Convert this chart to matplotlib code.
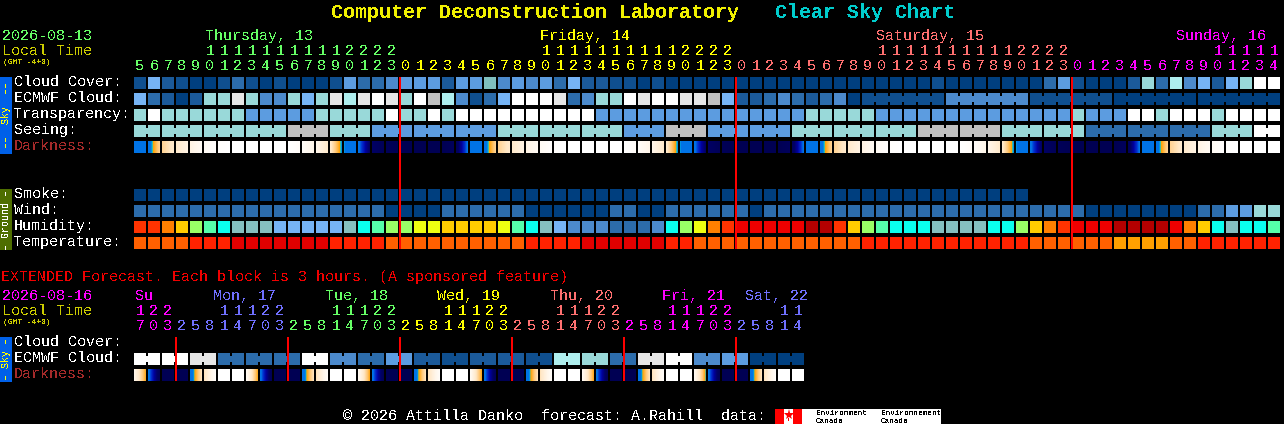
"""
Clear Sky Chart for the Computer Deconstruction Laboratory.
Blocks are laid out on the pixel grid of the original image.
"""
import numpy as np
import matplotlib
import matplotlib.pyplot as plt
from matplotlib.colors import LinearSegmentedColormap
from matplotlib.patches import Rectangle

matplotlib.use('Agg')

OUTPUT_PNG = "out.png"

# Palettes
CLOUD_COLORS = ['#003f7f', '#0f4f8f', '#1b5a9a', '#2c6cab', '#4c8acc', '#5c9ce0',
                '#76b4f5', '#7fbfbf', '#99d9d9', '#aeeeee', '#e6e6e6', '#ffffff', '#c0c0c0']
HUMIDITY_COLORS = ['#b40000', '#ee0000', '#ff3300', '#ff8000', '#ffcc00', '#eeff11', '#99ff66',
                   '#55ffaa', '#0affee', '#85bfbf', '#76b4f5', '#4c8acc', '#2c6cab']
TEMP_COLORS = ['#e00000', '#ff2200', '#ff6000', '#ffa000']
DARK_CMAP = LinearSegmentedColormap.from_list('dark', [
    (0.00, '#000050'), (0.10, '#000064'), (0.18, '#0000a0'), (0.25, '#0030d0'),
    (0.30, '#0073e6'), (0.42, '#0073e6'), (0.45, '#00c8d8'), (0.47, '#ffa000'),
    (0.58, '#ffc878'), (0.70, '#ffe8c8'), (0.85, '#fff6ea'), (1.00, '#ffffff')])

GREEN, YELLOW, SALMON, MAGENTA, PERI = '#66ff66', '#ffff00', '#ff7070', '#ff00ff', '#7070ff'
OLIVE_TEXT = '#cccc00'

# Hourly forecast, one value per column
HOURS = [5, 6, 7, 8, 9, 10, 11, 12, 13, 14, 15, 16, 17, 18, 19, 20, 21, 22, 23,
         0, 1, 2, 3, 4, 5, 6, 7, 8, 9, 10, 11, 12, 13, 14, 15, 16, 17, 18, 19, 20, 21, 22, 23,
         0, 1, 2, 3, 4, 5, 6, 7, 8, 9, 10, 11, 12, 13, 14, 15, 16, 17, 18, 19, 20, 21, 22, 23,
         0, 1, 2, 3, 4, 5, 6, 7, 8, 9, 10, 11, 12, 13, 14]
HOUR_DAY_COLORS = [GREEN, YELLOW, SALMON, MAGENTA]
DAY_NAMES = ['Thursday, 13', 'Friday, 14', 'Saturday, 15', 'Sunday, 16']
DAY_NAME_X = [205, 540, 876, 1176]

CLOUD = [1, 6, 2, 1, 0, 0, 1, 3, 1, 0, 1, 0, 0, 0, 1, 5, 3, 3, 4, 5, 5,
         5, 2, 5, 5, 7, 4, 5, 4, 5, 3, 6, 2, 2, 1, 1, 0, 1, 0, 0, 0, 0, 0,
         0, 0, 0, 0, 0, 0, 0, 0, 0,
         0, 0, 0, 0, 0, 1, 0, 0, 0, 0, 0, 0, 0, 3, 5,
         1, 0, 0, 0, 2, 8, 3, 9, 4, 6, 2, 6, 8, 11, 11]
ECMWF = [6, 3, 2, 0, 2, 8, 8, 10, 8, 4, 4, 8, 6, 8, 10, 9, 10, 11, 10, 8, 11,
         12, 9, 4, 1, 3, 6, 11, 11, 11, 10, 3, 4, 8, 8, 11, 10, 11, 11, 10, 10, 12, 6,
         2, 2, 3, 4, 3, 2, 3, 4, 0,
         1, 1, 1, 1, 1, 1, 4, 4, 4, 4, 4, 4, 1, 1, 1, 1, 1, 1,
         0, 0, 0, 0, 0, 0, 0, 0, 0, 0, 0, 0]
ECMWF_RUNS = [1] * 52 + [6, 6, 6, 6, 6]
TRANSPARENCY = [8, 11, 8, 8, 8, 8, 8, 8, 5, 5, 5, 5, 5, 8, 8, 8, 8, 8, 11, 8, 8,
                11, 8, 11, 11, 11, 11, 11, 11, 11, 11, 11, 11,
                5, 5, 5, 5, 5, 5, 5, 5, 5, 5, 5, 5, 5, 5, 5, 8, 8, 8, 8,
                8, 5, 5, 5, 5, 5, 5, 5, 5, 5, 5, 5, 5, 5, 5,
                8, 5, 5, 5, 11, 11, 8, 11, 11, 11, 8, 11, 11, 11, 11]
SEEING_RUNS = [2, 3, 3, 3, 3, 3, 3, 3, 3, 3, 3, 3, 3, 3, 3, 3, 3, 3, 3, 3, 3, 3, 3, 3, 3, 3, 3, 2]
SEEING_VALUES = [8, 8, 8, 8, 12, 8, 5, 5, 5, 8, 8, 8, 5, 12, 5, 5, 8, 8, 8, 12, 12, 8, 8, 3, 3, 3, 8, 11]
# Darkness is a scale value at each column edge, gradient drawn between neighbours
DARKNESS_EDGES = [.31, .36, .62, .72, .82, .92, .98, 1, 1, 1, 1, 1, .95, .85, .72, .43, .32, .10, .04, .02, .02, .02, .02, .06,
                  .31, .36, .62, .72, .82, .92, .98, 1, 1, 1, 1, 1, .95, .85, .72, .43, .32, .10, .04, .02, .02, .02, .02, .06,
                  .31, .36, .62, .72, .82, .92, .98, 1, 1, 1, 1, 1, .95, .85, .72, .43, .32, .10, .04, .02, .02, .02, .02, .06,
                  .31, .36, .62, .72, .82, .92, .98, 1, 1, 1, 1]
SMOKE = [0] * 64
WIND = [3, 3, 3, 3, 3, 3, 3, 3, 3, 3, 3, 3, 3, 3, 3, 3, 3, 3, 0, 0, 0,
        0, 3, 3, 3, 3, 3, 3, 0, 0, 0, 0, 0, 0, 3, 3, 0, 0, 3, 3, 3, 3, 3, 3, 0,
        3, 3, 3, 3, 3, 3, 3,
        3, 3, 3, 3, 3, 3, 3, 3, 3, 3, 3, 3, 3, 3, 3, 3,
        0, 0, 0, 0, 0, 0, 0, 0, 3, 3, 5, 5, 8, 8]
HUMIDITY = [2, 2, 3, 4, 6, 7, 8, 9, 9, 9, 10, 10, 10, 10, 10, 9, 8, 7, 6, 6, 5,
            5, 4, 4, 4, 4, 5, 7, 8, 9, 10, 11, 11, 11, 12, 12, 12, 11, 8, 6, 5, 3, 2,
            1, 1, 1, 1, 1, 0, 0, 2, 4,
            6, 7, 8, 8, 8, 9, 9, 9, 9, 8, 8, 6, 4, 3, 2,
            1, 1, 1, 0, 0, 0, 0, 1, 3, 4, 8, 9, 8, 8, 7]
TEMPERATURE = [2, 2, 2, 2, 1, 1, 1, 0, 0, 0, 0, 0, 0, 0, 1, 1, 1, 1, 2, 2, 2,
               2, 2, 2, 2, 2, 2, 2, 1, 1, 1, 1, 0, 0, 0, 0, 0, 0, 1, 1, 2, 2, 2,
               2, 2, 2, 2, 2, 2, 2, 2, 2,
               1, 1, 1, 1, 1, 1, 1, 1, 1, 1, 1, 1, 2, 2, 2,
               2, 2, 2, 3, 3, 3, 3, 2, 2, 1, 1, 1, 1, 1, 1]

# Extended forecast, each column is 3 hours
EXT_HOURS = [17, 20, 23,
             2, 5, 8, 11, 14, 17, 20, 23,
             2, 5, 8, 11, 14, 17, 20, 23,
             2, 5, 8, 11, 14, 17, 20, 23,
             2, 5, 8, 11, 14, 17, 20, 23,
             2, 5, 8, 11, 14, 17, 20, 23,
             2, 5, 8, 11, 14]
EXT_DAY_COLORS = [MAGENTA, PERI, GREEN, YELLOW, SALMON, MAGENTA, PERI]
EXT_DAY_NAMES = ['Su', 'Mon, 17', 'Tue, 18', 'Wed, 19', 'Thu, 20', 'Fri, 21', 'Sat, 22']
EXT_DAY_X = [135, 213, 325, 437, 550, 662, 745]
EXT_ECMWF = [11, 11, 10, 3, 3, 3, 11, 4, 3, 5, 2, 1, 2, 2, 1, 9, 8, 3, 10, 11, 4, 5, 0, 0]
EXT_DARK_START = [.85, .32, .02, .02, .34, .68, 1, 1,
                  .90, .32, .02, .02, .34, .68, 1, 1,
                  .90, .32, .02, .02, .34, .68, 1, 1,
                  .90, .32, .02, .02, .34, .68, 1, 1,
                  .90, .32, .02, .02, .34, .68, 1, 1,
                  .90, .32, .02, .02, .34, .68, 1, 1]
EXT_DARK_END = [.50, .04, .02, .02, .68, .95, 1, 1,
                .50, .04, .02, .02, .68, .95, 1, 1,
                .50, .04, .02, .02, .68, .95, 1, 1,
                .50, .04, .02, .02, .68, .95, 1, 1,
                .50, .04, .02, .02, .68, .95, 1, 1,
                .46, .04, .02, .02, .68, .95, 1, 1]

FONT = 'Liberation Mono'
X0, STEP, CELL = 134, 14, 12

plt.rcParams['text.antialiased'] = False


def label(ax, x, y, s, color='white', px=15.0, **kw):
    ax.text(x, y, s, color=color, fontsize=px * 0.72, family=FONT, va='baseline', **kw)


def block(ax, x, y, w, h, color):
    ax.add_patch(Rectangle((x, y), w, h, facecolor=color, edgecolor='none',
                           linewidth=0, antialiased=False))


def draw_row(ax, y, values, palette, runs=None):
    for i, v in enumerate(values):
        block(ax, X0 + i * STEP, y, CELL, CELL, palette[v])
    if runs is None:
        return
    # blocks of one forecast period are joined by a short bridge
    start = 0
    for run in runs:
        for i in range(start, start + run - 1):
            block(ax, X0 + i * STEP + CELL, y + 3, STEP - CELL, CELL - 6, palette[values[i]])
        start += run


def draw_darkness(ax, y, starts, ends):
    for i, (a, b) in enumerate(zip(starts, ends)):
        x = X0 + i * STEP
        ax.imshow(np.linspace(a, b, CELL).reshape(1, -1), cmap=DARK_CMAP, vmin=0, vmax=1,
                  extent=(x, x + CELL, y + CELL, y), aspect='auto', interpolation='nearest')


def draw_digits(ax, hours, day_starts, colors, tens_y, ones_y):
    for i, h in enumerate(hours):
        color = colors[int(np.searchsorted(day_starts, i, side='right')) - 1]
        x = X0 + i * STEP + 6
        if h >= 10:
            label(ax, x, tens_y, str(h // 10), color, ha='center')
        label(ax, x, ones_y, str(h % 10), color, ha='center')


def side_label(ax, y, s, color):
    ax.text(6, y, s, color=color, fontsize=7.2, family=FONT, rotation=90,
            ha='center', va='center')


def generate_chart():
    fig = plt.figure(figsize=(12.84, 4.24), dpi=100, facecolor='black')
    ax = fig.add_axes([0, 0, 1, 1])
    ax.set_facecolor('black')
    ax.axis('off')

    # Title
    label(ax, 331, 18, 'Computer Deconstruction Laboratory', '#f0f000', px=20, fontweight='bold')
    label(ax, 775, 18, 'Clear Sky Chart', '#00cccc', px=20, fontweight='bold')

    # Header
    label(ax, 2, 40, '2026-08-13', GREEN)
    label(ax, 2, 55, 'Local Time', OLIVE_TEXT)
    label(ax, 3, 64, '(GMT -4+0)', OLIVE_TEXT, px=8)
    for name, x, color in zip(DAY_NAMES, DAY_NAME_X, HOUR_DAY_COLORS):
        label(ax, x, 40, name, color)
    draw_digits(ax, HOURS, [0, 19, 43, 67], HOUR_DAY_COLORS, 55, 70)

    # Sky rows
    seeing = np.repeat(SEEING_VALUES, SEEING_RUNS)
    draw_row(ax, 77, CLOUD, CLOUD_COLORS)
    draw_row(ax, 93, ECMWF, CLOUD_COLORS, ECMWF_RUNS)
    draw_row(ax, 109, TRANSPARENCY, CLOUD_COLORS)
    draw_row(ax, 125, seeing, CLOUD_COLORS, SEEING_RUNS)
    draw_darkness(ax, 141, DARKNESS_EDGES[:-1], DARKNESS_EDGES[1:])

    # Ground rows
    draw_row(ax, 189, SMOKE, CLOUD_COLORS)
    draw_row(ax, 205, WIND, CLOUD_COLORS)
    draw_row(ax, 221, HUMIDITY, HUMIDITY_COLORS)
    draw_row(ax, 237, TEMPERATURE, TEMP_COLORS)

    for text, y, color in [('Cloud Cover:', 86, 'white'), ('ECMWF Cloud:', 102, 'white'),
                           ('Transparency:', 118, 'white'), ('Seeing:', 134, 'white'),
                           ('Darkness:', 150, '#a52a2a'), ('Smoke:', 198, 'white'),
                           ('Wind:', 214, 'white'), ('Humidity:', 230, 'white'),
                           ('Temperature:', 246, 'white')]:
        label(ax, 14, y, text, color)

    block(ax, 0, 77, 12, 77, '#0060e8')
    block(ax, 0, 189, 12, 61, '#4e6e00')
    side_label(ax, 115.5, '\u2013\u2013  Sky  \u2013\u2013', '#ffff00')
    side_label(ax, 219.5, '\u2013 Ground \u2013', 'white')

    # Midnight markers
    for i in [19, 43, 67]:
        block(ax, X0 + i * STEP - 1, 77, 2, 172, '#ff0000')

    # Extended forecast
    label(ax, 1, 281, 'EXTENDED Forecast. Each block is 3 hours. (A sponsored feature)', '#f00000')
    label(ax, 2, 300, '2026-08-16', MAGENTA)
    label(ax, 2, 315, 'Local Time', OLIVE_TEXT)
    label(ax, 3, 324, '(GMT -4+0)', OLIVE_TEXT, px=8)
    for name, x, color in zip(EXT_DAY_NAMES, EXT_DAY_X, EXT_DAY_COLORS):
        label(ax, x, 300, name, color)
    draw_digits(ax, EXT_HOURS, [0, 3, 11, 19, 27, 35, 43], EXT_DAY_COLORS, 315, 330)

    ext_values = np.repeat(EXT_ECMWF, 2)
    draw_row(ax, 353, ext_values, CLOUD_COLORS, [2] * len(EXT_ECMWF))
    draw_darkness(ax, 369, EXT_DARK_START, EXT_DARK_END)
    for text, y, color in [('Cloud Cover:', 346, 'white'), ('ECMWF Cloud:', 362, 'white'),
                           ('Darkness:', 378, '#a52a2a')]:
        label(ax, 14, y, text, color)
    block(ax, 0, 337, 12, 45, '#0060e8')
    side_label(ax, 359.5, '\u2013 Sky \u2013', '#ffff00')
    for i in [3, 11, 19, 27, 35, 43]:
        block(ax, X0 + i * STEP - 1, 337, 2, 44, '#ff0000')

    # Footer and data credit
    label(ax, 343, 420, '\u00a9 2026 Attilla Danko  forecast: A.Rahill  data:')
    block(ax, 775, 409, 166, 15, 'white')
    block(ax, 775, 409, 9, 15, '#ff0000')
    block(ax, 793, 409, 9, 15, '#ff0000')
    ax.plot([788.5], [415], marker='*', color='#ff0000', markersize=8, markeredgewidth=0)
    block(ax, 788, 418, 1, 3, '#ff0000')
    for x, word in [(816, 'Environment'), (881, 'Environnement')]:
        label(ax, x, 415, word, 'black', px=7.6)
        label(ax, x, 423, 'Canada', 'black', px=7.6)

    ax.set_xlim(0, 1284)
    ax.set_ylim(424, 0)
    fig.savefig(OUTPUT_PNG, dpi=100, facecolor='black')
    plt.close(fig)


if __name__ == "__main__":
    generate_chart()
